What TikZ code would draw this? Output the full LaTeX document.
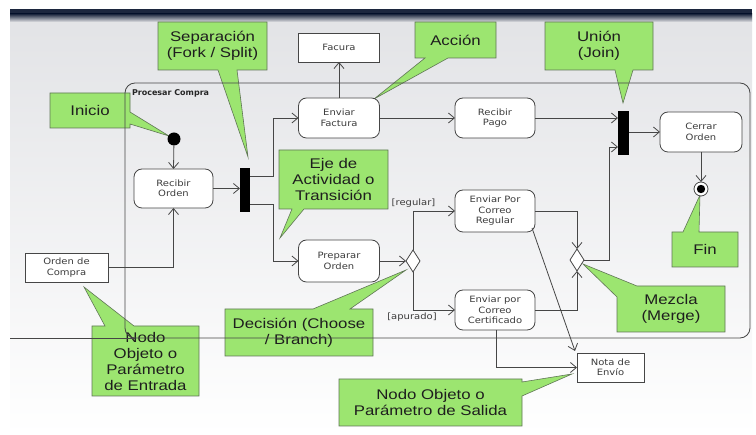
\documentclass[tikz,border=0pt]{standalone}
\usepackage{fontspec}
\newfontfamily\callfont[FakeStretch=1.2]{Liberation Sans}
\newfontfamily\umlfont[FakeStretch=1.15]{DejaVu Sans}
\newfontfamily\titlefont{DejaVu Sans}
\usetikzlibrary{arrows.meta,shapes.geometric,calc}
\definecolor{linec}{RGB}{70,70,70}
\definecolor{labc}{RGB}{60,60,60}
\definecolor{callg}{RGB}{156,229,112}
\definecolor{callb}{RGB}{96,118,86}
\definecolor{calltx}{RGB}{30,30,30}
\definecolor{bandc}{RGB}{28,38,62}
\definecolor{bgtop}{RGB}{226,227,230}
\definecolor{bgmid}{RGB}{244,244,245}
\definecolor{bgbot}{RGB}{255,255,255}
\begin{document}
\begin{tikzpicture}[x=1pt,y=-1pt,
  every node/.style={inner sep=0pt, outer sep=0pt},
  act/.style={draw=linec, line width=0.8pt, fill=white, rounded corners=8pt,
    minimum width=81pt, minimum height=40pt, align=center, text=labc,
    font=\umlfont\fontsize{8.7}{10.5}\selectfont},
  obj/.style={act, rounded corners=0pt, minimum height=29pt},
  bar/.style={fill=black, minimum width=10pt, minimum height=44pt},
  choice/.style={diamond, draw=linec, line width=0.8pt, fill=white,
    minimum width=14pt, minimum height=22pt},
  guard/.style={text=labc, font=\umlfont\fontsize{8.7}{10.5}\selectfont},
  flow/.style={draw=linec, line width=0.8pt,
    -{Straight Barb[length=6pt,width=10pt,line width=0.8pt]}},
  plain/.style={draw=linec, line width=0.8pt},
  callout/.style={fill=callg, draw=callb, line width=0.6pt},
  calltext/.style={align=center, text=calltx,
    font=\callfont\fontsize{14}{16}\selectfont}]

% canvas and backdrop
\useasboundingbox (0,0) rectangle (756,435);
\fill[white] (0,0) rectangle (756,435);
\shade[top color=bgtop, middle color=bgmid, bottom color=bgbot] (10,14) rectangle (752,435);
\fill[bandc] (10,9) rectangle (752,14);
\shade[top color=bandc, bottom color=bgtop] (10,14) rectangle (752,22);

% callouts
\draw[callout] (158,22) -- (267,22) -- (267,70) -- (237,70) -- (248,157) -- (218,70) -- (158,70) -- cycle;
\node[calltext] (cSep) at (212.5,46) {Separación\\(Fork / Split)};

\draw[callout] (50,93) -- (130,93) -- (130,112) -- (169,136) -- (130,124) -- (130,128) -- (50,128) -- cycle;
\node[calltext] (cIni) at (90,110.5) {Inicio};

\draw[callout] (415,22) -- (496,22) -- (496,58) -- (448,58) -- (374,99) -- (425,58) -- (415,58) -- cycle;
\node[calltext] (cAcc) at (455.5,40) {Acción};

\draw[callout] (545,22) -- (653,22) -- (653,70) -- (633,70) -- (623,103) -- (615,70) -- (545,70) -- cycle;
\node[calltext] (cUni) at (599,46) {Unión\\(Join)};

\draw[callout] (279,150) -- (388,150) -- (388,209) -- (304,209) -- (280,238) -- (292,209) -- (279,209) -- cycle;
\node[calltext] (cEje) at (333.5,179.5) {Eje de\\Actividad o\\Transición};

\draw[callout] (225,309) -- (313,309) -- (406,270) -- (350,309) -- (373,309) -- (373,356) -- (225,356) -- cycle;
\node[calltext] (cDec) at (299,332.5) {Decisión (Choose\\/ Branch)};

\draw[callout] (92,326) -- (105,326) -- (84,287) -- (134,326) -- (199,326) -- (199,396) -- (92,396) -- cycle;
\node[calltext] (cEnt) at (145.5,361) {Nodo\\Objeto o\\Parámetro\\de Entrada};

\draw[callout] (339,379) -- (522,379) -- (522,382) -- (572,374) -- (522,396) -- (522,426) -- (339,426) -- cycle;
\node[calltext] (cSal) at (430.5,402.5) {Nodo Objeto o\\Parámetro de Salida};

\draw[callout] (637,286) -- (725,286) -- (725,332) -- (617,332) -- (617,297) -- (583,264) -- cycle;
\node[calltext] (cMez) at (671,309) {Mezcla\\(Merge)};

\draw[callout] (672,232) -- (683,232) -- (700,195) -- (699,232) -- (738,232) -- (738,267) -- (672,267) -- cycle;
\node[calltext] (cFin) at (705,249.5) {Fin};

% activity frame; its bottom rule runs on to the left margin
\draw[plain, rounded corners=10pt] (125,83) rectangle (750,338);
\draw[plain] (10,338) -- (135,338);
\node[anchor=west, text=black!85, font=\titlefont\bfseries\fontsize{8}{10}\selectfont] (frameTitle) at (132,93) {Procesar Compra};

% activity nodes
\node[circle, fill=black, minimum size=13pt] (init) at (174,139) {};
\node[act, minimum width=79pt, minimum height=39pt] (recibir) at (173.5,188.5) {Recibir\\Orden};
\node[bar] (fork) at (245,190) {};
\node[act] (factura) at (339,118) {Enviar\\Factura};
\node[obj] (facura) at (339,47.5) {Facura};
\node[act, minimum width=80pt] (pago) at (495,118) {Recibir\\Pago};
\node[bar, minimum width=11pt] (join) at (623.5,133) {};
\node[act, minimum width=82pt] (cerrar) at (701,132) {Cerrar\\Orden};
\node[circle, draw=linec, line width=0.8pt, fill=white, minimum size=14pt] (fin) at (701,189) {};
\fill[black] (fin) circle (4.2pt);
\node[act, minimum width=80pt, minimum height=42pt] (regular) at (495,211) {Enviar Por\\Correo\\Regular};
\node[act, minimum height=42pt] (preparar) at (339,261) {Preparar\\Orden};
\node[choice] (decision) at (413,261) {};
\node[act, minimum width=80pt] (certif) at (495,310) {Enviar por\\Correo\\Certificado};
\node[choice] (merge) at (577,260) {};
\node[obj, minimum width=67pt] (nota) at (610.5,367.5) {Nota de\\Envío};
\node[obj, minimum width=83pt] (orden) at (66.5,267.5) {Orden de\\Compra};

% guards
\node[guard] (gReg) at (413.5,203) {[regular]};
\node[guard] (gApu) at (412,317) {[apurado]};

% control and object flows
\draw[flow] (init) -- (recibir.north);
\draw[flow] (recibir.east) -- (recibir.east -| fork.west);
\draw[flow] ([yshift=14pt]fork.east) -- ++(23,0) |- (factura.west);
\draw[flow] ([yshift=-14pt]fork.east) -- ++(23,0) |- (preparar.west);
\draw[flow] (factura.north) -- (facura.south);
\draw[flow] (factura.east) -- (pago.west);
\draw[flow] (pago.east) -- (pago.east -| join.west);
\draw[flow] (join.east |- cerrar.west) -- (cerrar.west);
\draw[flow] (cerrar.south) -- (fin.north);
\draw[flow] (orden.east) -| (recibir.south);
\draw[flow] (preparar.east) -- (decision.west);
\draw[flow] (decision.north) |- (regular.west);
\draw[flow] (decision.south) |- (certif.west);
\draw[flow] (regular.east) -| (merge.north);
\draw[flow] (certif.east) -| (merge.south);
\draw[flow] (merge.east) -- ++(25,0) |- ([yshift=-14pt]join.west);
\draw[flow] ([xshift=-3pt,yshift=4pt]regular.south east) -- ([xshift=-2pt,yshift=2pt]nota.north west);
\draw[flow] ([xshift=1pt]certif.south) |- (nota.west);
\end{tikzpicture}
\end{document}
